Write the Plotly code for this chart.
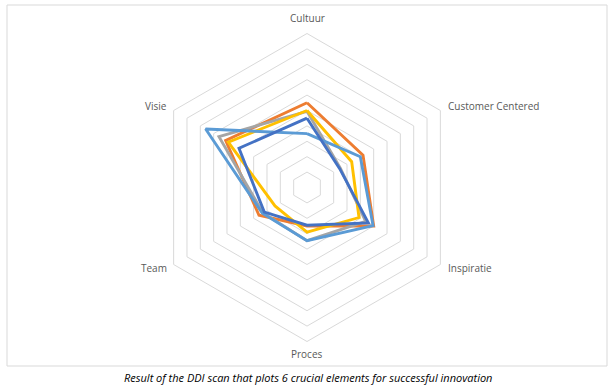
import plotly.graph_objects as go

categories = ["Cultuur", "Customer Centered", "Inspiratie", "Proces", "Team", "Visie"]

series_names = ["Reeks 2", "Reeks 3", "Reeks 4", "Reeks 5", "Reeks 1"]
orange = [5.5, 4.2, 5.0, 2.5, 3.6, 6.1]
gray = [4.95, 2.5, 4.4, 3.45, 3.3, 6.6]
yellow = [5.0, 3.35, 3.9, 2.9, 2.4, 5.9]
light_blue = [3.5, 4.0, 4.95, 3.45, 3.35, 7.6]
dark_blue = [4.5, 2.45, 4.6, 2.45, 3.2, 5.1]

radial_max = 10
caption = "Result of the DDI scan that plots 6 crucial elements for successful innovation"

colors = ["#ED7D31", "#A5A5A5", "#FFC000", "#5B9BD5", "#4472C4"]
values = [orange, gray, yellow, light_blue, dark_blue]

W, H = 614, 387


def px(x):
    return x / W


def py(y):
    return 1 - y / H


fig = go.Figure()
for name, vals, col in zip(series_names, values, colors):
    fig.add_trace(go.Scatterpolar(
        r=vals + vals[:1],
        theta=categories + categories[:1],
        mode="lines",
        name=name,
        line=dict(color=col, width=2.9),
        hoverinfo="skip",
    ))

# category label placement (layout only)
label_pos = [(307, 18, "center"), (446, 106, "left"), (446, 268, "left"),
             (307, 354, "center"), (169, 268, "right"), (169, 106, "right")]
annotations = []
for cat, (lx, ly, anchor) in zip(categories, label_pos):
    annotations.append(dict(text=cat, xref="paper", yref="paper", x=px(lx), y=py(ly),
                            showarrow=False, xanchor=anchor, yanchor="middle",
                            font=dict(family="Open Sans", size=10, color="#595959")))
annotations.append(dict(text="<i>" + caption + "</i>", xref="paper", yref="paper",
                        x=px(307.5), y=py(377), showarrow=False, xanchor="center", yanchor="middle",
                        font=dict(family="Open Sans", size=11, color="#000000")))

cx, cy, R = 307, 187.5, 154
fig.update_layout(
    width=W, height=H,
    margin=dict(l=0, r=0, t=0, b=0),
    paper_bgcolor="white",
    showlegend=False,
    font=dict(family="Open Sans", size=10, color="#595959"),
    polar=dict(
        domain=dict(x=[px(cx - R), px(cx + R)], y=[py(cy + R), py(cy - R)]),
        gridshape="linear",
        bgcolor="white",
        radialaxis=dict(range=[0, radial_max], dtick=1, showticklabels=False, ticks="",
                        showline=False, gridcolor="#D9D9D9", gridwidth=1),
        angularaxis=dict(direction="clockwise", rotation=90, showgrid=False,
                         showline=True, linecolor="#D9D9D9", linewidth=1, ticks="",
                         showticklabels=False),
    ),
    shapes=[dict(type="rect", xref="paper", yref="paper",
                 x0=px(7), x1=px(607), y0=py(366), y1=py(5),
                 line=dict(color="#D9D9D9", width=1), fillcolor="rgba(0,0,0,0)")],
    annotations=annotations,
)
fig.write_html("out.html", config={"displayModeBar": False},
               post_script="document.body.style.margin='0';document.body.style.overflow='hidden';")
